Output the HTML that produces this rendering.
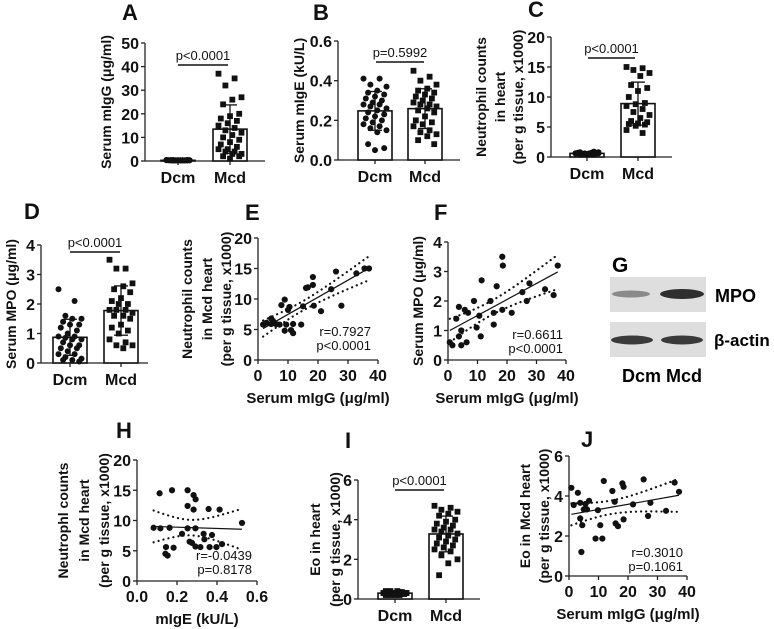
<!DOCTYPE html>
<html><head><meta charset="utf-8">
<style>
html,body{margin:0;padding:0;background:#fff;}
svg{display:block;font-family:"Liberation Sans",Arial,sans-serif;}
</style></head>
<body>
<svg id="fig" width="774" height="629" viewBox="0 0 774 629" xmlns="http://www.w3.org/2000/svg">
<g>
  <text x="612" y="272" font-size="21" font-weight="bold">G</text>
  <rect x="610" y="277" width="96" height="35" fill="#dedede"/>
  <ellipse cx="631" cy="294" rx="19" ry="3.5" fill="#8a8a8a"/>
  <ellipse cx="682" cy="294" rx="22" ry="5" fill="#2e2e2e"/>
  <rect x="610" y="322" width="96" height="35" fill="#dedede"/>
  <ellipse cx="632" cy="340" rx="21" ry="4.5" fill="#3a3a3a"/>
  <ellipse cx="682" cy="340" rx="21" ry="4.5" fill="#3a3a3a"/>
  <text x="715" y="302" font-size="18" font-weight="bold">MPO</text>
  <text x="714" y="346" font-size="17" font-weight="bold">β-actin</text>
  <text x="622" y="382" font-size="18" font-weight="bold">Dcm Mcd</text>
</g>
</svg>
<script>
// ---------- data ----------
const cats = ["Dcm","Mcd"];
const aDcm = [0.3,0.2,0.4,0.3,0.2,0.3,0.4,0.2,0.3,0.3,0.2,0.4,0.3,0.2,0.3,0.3,0.4,0.2,0.3,0.3,0.2,0.3,0.4,0.3,0.2,0.3,0.3,0.2,0.4,0.3];
const aMcd = [37,35,32,27,26,24,20,19,18,17,16,15,14,13,12,11,10,9,8,7,6,5,5,4,4,3,3,2,2,1];
const bDcm = [0.41,0.41,0.38,0.37,0.35,0.34,0.33,0.32,0.31,0.3,0.29,0.28,0.28,0.27,0.26,0.25,0.24,0.23,0.22,0.21,0.2,0.19,0.18,0.17,0.16,0.15,0.14,0.08,0.06,0.05];
const bMcd = [0.45,0.42,0.4,0.38,0.36,0.35,0.34,0.33,0.32,0.31,0.3,0.29,0.28,0.28,0.27,0.26,0.25,0.24,0.22,0.2,0.19,0.18,0.17,0.15,0.14,0.13,0.12,0.1,0.08];
const cDcm = [0.6,0.7,0.5,0.8,0.6,0.4,0.7,0.5,0.6,0.9,0.5,0.6,0.7,0.4,0.6,0.5,0.8,0.6,0.5,0.7,0.4,0.6];
const cMcd = [15,14.8,14.5,14,13.5,12,11.5,11,10,9,8.8,8.5,8,7.5,7,6.5,6,5.8,5.6,5.5,5.4,5.2,4.5,4];
const dDcm = [2.5,2.1,1.6,1.5,1.5,1.4,1.3,1.3,1.2,1.1,1.0,0.9,0.9,0.85,0.8,0.8,0.7,0.6,0.6,0.5,0.5,0.4,0.3,0.3,0.2,0.15,0.1,0.1,0.05];
const dMcd = [3.5,3.2,3.2,2.7,2.6,2.5,2.4,2.2,2.1,2.0,2.0,1.8,1.8,1.8,1.7,1.6,1.6,1.5,1.3,1.2,1.1,1.0,0.8,0.7,0.6,0.6,0.5];
const iDcm = [0.3,0.2,0.4,0.3,0.25,0.35,0.3,0.2,0.4,0.3,0.25,0.3,0.35,0.2,0.3,0.4,0.3,0.25,0.3,0.2,0.35,0.3];
const iMcd = [4.7,4.6,4.5,4.4,4.3,4.2,4.0,3.9,3.8,3.7,3.6,3.5,3.5,3.4,3.3,3.2,3.1,3.0,2.9,2.8,2.7,2.6,2.5,2.4,2.2,2.0,1.8,1.2];
const eX = [1.7,2.8,4.4,5,6,4.4,7.2,7.8,8.9,9.4,8.9,11,10,10.5,11.7,11.7,14.4,15,16,16.6,18.3,18.3,18.6,21,24.4,26,27.8,32.8,35.5,37];
const eY = [5.8,6.1,6.8,6.4,5.9,5.9,5.8,9,9.9,5.8,4.8,4.9,8.2,8.7,5.9,4.4,5.8,8.8,11.8,11.9,12.3,13.6,8.9,8,11.6,14.5,8.9,14.2,15,15];
const fX = [0.6,1.5,2.8,3.7,3.7,4.5,4.5,5.7,6.3,6.8,8.8,9.7,10.6,11.1,11.4,14.4,15.5,15.5,16.5,18.4,18.6,18.4,21.6,25.2,26.7,27.6,32.9,35.8,37.2];
const fY = [0.6,0.5,1.4,1.8,0.8,1.0,0.5,1.7,0.6,1.6,2.0,1.1,1.5,0.8,2.7,2.0,1.2,1.6,2.5,3.5,3.2,1.7,1.6,2.3,2.0,2.6,2.4,2.2,3.2];
const hX = [0.083,0.117,0.113,0.175,0.163,0.145,0.142,0.153,0.183,0.225,0.253,0.253,0.253,0.263,0.275,0.283,0.283,0.293,0.292,0.292,0.317,0.333,0.337,0.358,0.363,0.375,0.397,0.413,0.425,0.525];
const hY = [8.8,8.7,14.5,15,8.8,5.6,4.5,4.2,5.5,7.8,15,12.4,8.7,6.5,6.3,11.8,14.2,13.5,8.7,5.7,5.6,7.8,6.9,11.9,5.6,7.6,5.6,11.8,6.1,9.6];
const jX = [0.8,1.6,3.0,3.8,3.8,4.2,4.5,5,5.6,6.1,6.8,9,9.8,10.6,11.3,11.8,14.7,15.5,15.8,16.6,18.1,18.5,18.5,21.7,25.3,26.8,27.6,32.9,35.8,37.3];
const jY = [4.41,3.55,4.16,3.66,2.88,1.2,2.54,3.33,3.6,3.33,3.76,1.87,3.29,2.54,1.87,4.75,4.25,3.71,2.63,2.49,4.63,4.46,2.83,3.58,4.83,3.0,3.66,3.26,4.67,4.21];
const aTicks=[0,10,20,30,40,50], bTicks=[0,0.2,0.4,0.6], cTicks=[0,5,10,15,20], dTicks=[0,1,2,3,4];
const iTicks=[0,2,4,6], xTicksG=[0,10,20,30,40], hXTicks=[0,0.2,0.4,0.6];

// ---------- helpers ----------
const svg=document.getElementById('fig');
const NS="http://www.w3.org/2000/svg";
function mk(parent,tag,attrs,name){
  const el=document.createElementNS(NS,tag);
  for(const k in attrs) el.setAttribute(k,attrs[k]);
  
  
  parent.appendChild(el);return el;
}
function txt(parent,x,y,s,size,weight,anchor,name,rot){
  const a={x:x,y:y,'font-size':size,'font-weight':weight||'bold','text-anchor':anchor||'start',fill:'#111'};
  if(rot){a.transform='rotate(-90 '+x+' '+y+')';a['dominant-baseline']='central';}
  const t=mk(parent,'text',a,name);t.textContent=s;return t;
}
function fmt(v,dec){return dec?v.toFixed(dec):String(v);}
function mean(a){return a.reduce((s,v)=>s+v,0)/a.length;}
function sd(a){const m=mean(a);return Math.sqrt(a.reduce((s,v)=>s+(v-m)*(v-m),0)/(a.length-1));}

function yAxis(g,p){
  const ys=v=>p.yb-(v/p.ymax)*(p.yb-p.yt);
  mk(g,'line',{x1:p.ax,y1:p.yb,x2:p.ax,y2:p.yt,stroke:'#222','stroke-width':1.3},'y-axis-line');
  p.yticks.forEach(v=>{
    mk(g,'line',{x1:p.ax-4,y1:ys(v),x2:p.ax,y2:ys(v),stroke:'#222','stroke-width':1.3},'y-tick');
    txt(g,p.ax-6,ys(v)+6,fmt(v,p.ydec),16,'bold','end','y-tick-label');
  });
  const mid=(p.yb+p.yt)/2;
  p.ytitle.forEach((s,i)=>txt(g,p.tx[i],mid,s,14,'bold','middle','y-axis-title',true));
  txt(g,p.lx,p.ly,p.letter,22,'bold','start','panel-letter');
  return ys;
}

function barPanel(p){
  const g=mk(svg,'g',{},p.name);
  const ys=yAxis(g,p);
  mk(g,'line',{x1:p.ax,y1:p.yb,x2:p.xend,y2:p.yb,stroke:'#222','stroke-width':1.3},'x-axis-line');
  const groups=[p.dcm,p.mcd];
  groups.forEach((arr,gi)=>{
    const cx=p.cx[gi], m=mean(arr), s=sd(arr);
    mk(g,'line',{x1:cx,y1:p.yb,x2:cx,y2:p.yb+4,stroke:'#222','stroke-width':1.3},'x-tick');
    txt(g,cx,p.yb+22,cats[gi],16,'bold','middle','x-category-label');
    mk(g,'rect',{x:cx-17,y:ys(m),width:34,height:p.yb-ys(m),fill:'#fff',stroke:'#111','stroke-width':1.6},'bar-'+cats[gi].toLowerCase());
    arr.forEach((v,i)=>{
      const off=((i*7)%11-5)*2.3;
      if(gi===0 && !p.dcmSquare) mk(g,'circle',{cx:cx+off,cy:ys(v),r:3,fill:'#111'},'point-dcm');
      else mk(g,'rect',{x:cx+off-2.9,y:ys(v)-2.9,width:5.8,height:5.8,fill:'#111'},'point-'+cats[gi].toLowerCase());
    });
    const top=ys(Math.min(m+s,p.ymax)), bot=ys(Math.max(m-s,0));
    mk(g,'line',{x1:cx,y1:top,x2:cx,y2:bot,stroke:'#111','stroke-width':1.3},'error-bar');
    mk(g,'line',{x1:cx-7,y1:top,x2:cx+7,y2:top,stroke:'#111','stroke-width':1.3},'error-cap');
    mk(g,'line',{x1:cx-7,y1:bot,x2:cx+7,y2:bot,stroke:'#111','stroke-width':1.3},'error-cap');
  });
  mk(g,'line',{x1:p.px[0],y1:p.py,x2:p.px[1],y2:p.py,stroke:'#111','stroke-width':1.6},'significance-line');
  txt(g,(p.px[0]+p.px[1])/2,p.py-5,p.ptext,13,'normal','middle','p-value-label');
}

function scatterPanel(p){
  const g=mk(svg,'g',{},p.name);
  const ys=yAxis(g,p);
  const xs=v=>p.ax+(v/p.xmax)*(p.xr-p.ax);
  mk(g,'line',{x1:p.ax,y1:p.yb,x2:p.xr,y2:p.yb,stroke:'#222','stroke-width':1.3},'x-axis-line');
  p.xticks.forEach(v=>{
    mk(g,'line',{x1:xs(v),y1:p.yb,x2:xs(v),y2:p.yb+4,stroke:'#222','stroke-width':1.3},'x-tick');
    txt(g,xs(v),p.yb+21,fmt(v,p.xdec),16,'bold','middle','x-tick-label');
  });
  txt(g,p.xtc,p.yb+43,p.xtitle,15,'bold','middle','x-axis-title');
  const X=p.x,Y=p.y,n=X.length,mx=mean(X),my=mean(Y);
  let sxx=0,sxy=0;X.forEach((v,i)=>{sxx+=(v-mx)*(v-mx);sxy+=(v-mx)*(Y[i]-my);});
  const b=sxy/sxx,a=my-b*mx;
  let sse=0;X.forEach((v,i)=>{const r=Y[i]-(a+b*v);sse+=r*r;});
  const s=Math.sqrt(sse/(n-2)),t=2.05;
  const x0=Math.min(...X),x1=Math.max(...X);
  mk(g,'line',{x1:xs(x0),y1:ys(a+b*x0),x2:xs(x1),y2:ys(a+b*x1),stroke:'#111','stroke-width':1.2},'regression-line');
  [1,-1].forEach(sg=>{
    let d='';
    for(let k=0;k<=40;k++){const xv=x0+(x1-x0)*k/40;const se=s*Math.sqrt(1/n+(xv-mx)*(xv-mx)/sxx);
      d+=(k?'L':'M')+xs(xv).toFixed(1)+' '+ys(a+b*xv+sg*t*se).toFixed(1);}
    mk(g,'path',{d:d,fill:'none',stroke:'#111','stroke-width':2.2,'stroke-dasharray':'0.1 5','stroke-linecap':'round'},sg>0?'ci-upper':'ci-lower');
  });
  X.forEach((v,i)=>mk(g,'circle',{cx:xs(v),cy:ys(Y[i]),r:3.1,fill:'#111'},'data-point'));
  txt(g,p.ar,p.ay,p.r,13,'normal','end','r-value-label');
  txt(g,p.ar,p.ay+14,p.pv,13,'normal','end','p-value-label');
}

// ---------- panels ----------
barPanel({name:'panel-a',ax:145,yb:161,yt:43,ymax:50,yticks:aTicks,xend:265,cx:[178,230],dcm:aDcm,mcd:aMcd,
  px:[178,228],py:65,ptext:'p<0.0001',ytitle:['Serum mIgG (μg/ml)'],tx:[106],letter:'A',lx:122,ly:20});
barPanel({name:'panel-b',ax:338,yb:160,yt:41,ymax:0.6,ydec:1,yticks:bTicks,xend:460,cx:[375,425],dcm:bDcm,mcd:bMcd,
  px:[376,424],py:62,ptext:'p=0.5992',ytitle:['Serum mIgE (kU/L)'],tx:[299],letter:'B',lx:313,ly:20});
barPanel({name:'panel-c',ax:551,yb:157,yt:37,ymax:20,yticks:cTicks,xend:672,cx:[587,638],dcm:cDcm,mcd:cMcd,
  px:[588,635],py:58,ptext:'p<0.0001',ytitle:['Neutrophil counts','in heart','(per g tissue, x1000)'],tx:[481,500,518],letter:'C',lx:528,ly:17});
barPanel({name:'panel-d',ax:41,yb:363,yt:245,ymax:4,yticks:dTicks,xend:148,cx:[70,121],dcm:dDcm,mcd:dMcd,
  px:[70,120],py:252,ptext:'p<0.0001',ytitle:['Serum MPO (μg/ml)'],tx:[11],letter:'D',lx:24,ly:219});
barPanel({name:'panel-i',ax:358,yb:599,yt:480,ymax:6,yticks:iTicks,xend:480,cx:[395,446],dcm:iDcm,mcd:iMcd,dcmSquare:true,
  px:[395,444],py:490,ptext:'p<0.0001',ytitle:['Eo in heart','(per g tissue, x1000)'],tx:[315,335],letter:'I',lx:345,ly:448});

scatterPanel({name:'panel-e',ax:258,yb:360,yt:238,ymax:20,yticks:cTicks,xr:378,xmax:40,xticks:xTicksG,x:eX,y:eY,
  xtitle:'Serum mIgG (μg/ml)',xtc:318,ytitle:['Neutrophil counts','in Mcd heart','(per g tissue, x1000)'],tx:[187,207,226],
  letter:'E',lx:245,ly:220,ar:371,ay:336,r:'r=0.7927',pv:'p<0.0001'});
scatterPanel({name:'panel-f',ax:448,yb:360,yt:242,ymax:4,yticks:dTicks,xr:566,xmax:40,xticks:xTicksG,x:fX,y:fY,
  xtitle:'Serum mIgG (μg/ml)',xtc:507,ytitle:['Serum MPO (μg/ml)'],tx:[418],
  letter:'F',lx:434,ly:220,ar:563,ay:339,r:'r=0.6611',pv:'p<0.0001'});
scatterPanel({name:'panel-h',ax:137,yb:581,yt:460,ymax:20,yticks:cTicks,xr:257,xmax:0.6,xdec:1,xticks:hXTicks,x:hX,y:hY,
  xtitle:'mIgE (kU/L)',xtc:197,ytitle:['Neutrophl counts','in Mcd heart','(per g tissue, x1000)'],tx:[63,84,104],
  letter:'H',lx:116,ly:438,ar:252,ay:560,r:'r=-0.0439',pv:'p=0.8178'});
scatterPanel({name:'panel-j',ax:569,yb:576,yt:456,ymax:6,yticks:iTicks,xr:687,xmax:40,xticks:xTicksG,x:jX,y:jY,
  xtitle:'Serum mIgG (μg/ml)',xtc:628,ytitle:['Eo in Mcd heart','(per g tissue, x1000)'],tx:[525,544],
  letter:'J',lx:581,ly:447,ar:683,ay:557,r:'r=0.3010',pv:'p=0.1061'});
</script>
</body></html>
